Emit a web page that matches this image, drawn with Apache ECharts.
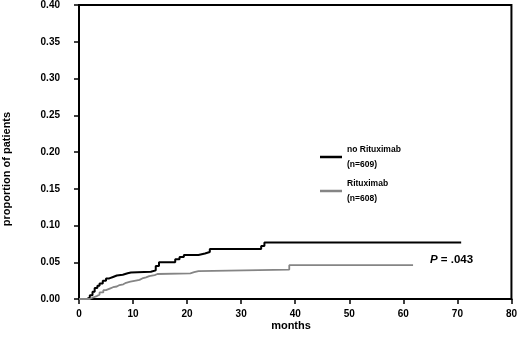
<!DOCTYPE html>
<html>
<head>
<meta charset="utf-8">
<script src="https://cdn.jsdelivr.net/npm/echarts@6/dist/echarts.min.js"></script>
<style>
  html, body { margin: 0; padding: 0; background: #fff; }
  #main { width: 520px; height: 339px; }
</style>
</head>
<body>
<div id="main"></div>
<script>
// cumulative incidence (months, proportion)
var noRituxMonths = [0, 1.5, 2.0, 2.5, 2.9, 3.4, 3.8, 4.4, 5.0, 5.6, 6.3, 7.0, 8.1, 9.0, 9.6, 13.3, 14.2, 14.8, 17.8, 18.6, 19.4, 22.1, 23.3, 24.2, 33.7, 34.3, 70.7];
var noRituxValues = [0, 0.002, 0.005, 0.010, 0.015, 0.018, 0.021, 0.025, 0.028, 0.030, 0.032, 0.033, 0.035, 0.036, 0.037, 0.039, 0.045, 0.050, 0.054, 0.057, 0.060, 0.062, 0.064, 0.068, 0.072, 0.077, 0.077];

var rituxMonths = [0, 2.0, 2.6, 3.3, 3.8, 4.5, 5.0, 5.8, 6.3, 7.0, 7.5, 8.2, 8.7, 9.5, 10.5, 11.2, 11.7, 12.4, 13.0, 14.0, 14.5, 20.6, 21.3, 22.1, 38.9, 61.8];
var rituxValues = [0, 0.002, 0.004, 0.006, 0.009, 0.012, 0.0145, 0.016, 0.017, 0.019, 0.020, 0.022, 0.0235, 0.025, 0.026, 0.028, 0.0295, 0.031, 0.0326, 0.034, 0.035, 0.0365, 0.038, 0.040, 0.046, 0.046];

var seriesNames = ['no Rituximab\n(n=609)', 'Rituximab\n(n=608)'];
var pValueText = '.043';

function pairs(xs, ys) {
    var out = [];
    for (var i = 0; i < xs.length; i++) out.push([xs[i], ys[i]]);
    return out;
}

var font = 'Arial, "Liberation Sans", sans-serif';
var myChart = echarts.init(document.getElementById('main'));

var option = {
    animation: false,
    grid: {
        left: 79, right: 2, top: 5, bottom: 40,
        show: true, borderColor: '#000', borderWidth: 2
    },
    xAxis: {
        type: 'value', min: 0, max: 80, interval: 10,
        axisLine: { show: true, lineStyle: { color: '#000', width: 2 } },
        axisTick: { show: true, length: 5, lineStyle: { color: '#000', width: 1.5 } },
        axisLabel: { color: '#000', fontFamily: font, fontWeight: 'bold', fontSize: 10, margin: 10 },
        splitLine: { show: false }
    },
    yAxis: {
        type: 'value', min: 0, max: 0.4, interval: 0.05,
        axisLine: { show: true, lineStyle: { color: '#000', width: 2 } },
        axisTick: { show: true, length: 5, lineStyle: { color: '#000', width: 1.5 } },
        axisLabel: {
            color: '#000', fontFamily: font, fontWeight: 'bold', fontSize: 10, margin: 19,
            formatter: function (v) { return v.toFixed(2); }
        },
        splitLine: { show: false }
    },
    legend: {
        orient: 'vertical',
        left: 315, top: 137,
        itemWidth: 22, itemHeight: 2.5, itemGap: 4,
        icon: 'rect',
        textStyle: { color: '#000', fontFamily: font, fontWeight: 'bold', fontSize: 8.5, lineHeight: 15 },
        data: seriesNames
    },
    graphic: [
        {
            type: 'text', x: 7, y: 169, rotation: Math.PI / 2,
            style: {
                text: 'proportion of patients', fill: '#000', font: 'bold 11px ' + font,
                textAlign: 'center', textVerticalAlign: 'middle'
            }
        },
        {
            type: 'text', x: 291, y: 326,
            style: {
                text: 'months', fill: '#000', font: 'bold 11px ' + font,
                textAlign: 'center', textVerticalAlign: 'middle'
            }
        },
        {
            type: 'text', x: 430, y: 260,
            style: {
                text: '{i|P} = ' + pValueText,
                rich: { i: { fontStyle: 'italic', fontWeight: 'bold', fontSize: 11.5, fontFamily: font } },
                fill: '#000', font: 'bold 11.5px ' + font,
                textVerticalAlign: 'middle'
            }
        }
    ],
    series: [
        {
            name: seriesNames[0], type: 'line', step: 'end', showSymbol: false,
            lineStyle: { color: '#000', width: 2 }, itemStyle: { color: '#000' },
            data: pairs(noRituxMonths, noRituxValues)
        },
        {
            name: seriesNames[1], type: 'line', step: 'end', showSymbol: false,
            lineStyle: { color: '#858585', width: 1.8 }, itemStyle: { color: '#858585' },
            data: pairs(rituxMonths, rituxValues)
        }
    ]
};

myChart.setOption(option, true);
</script>
</body>
</html>
